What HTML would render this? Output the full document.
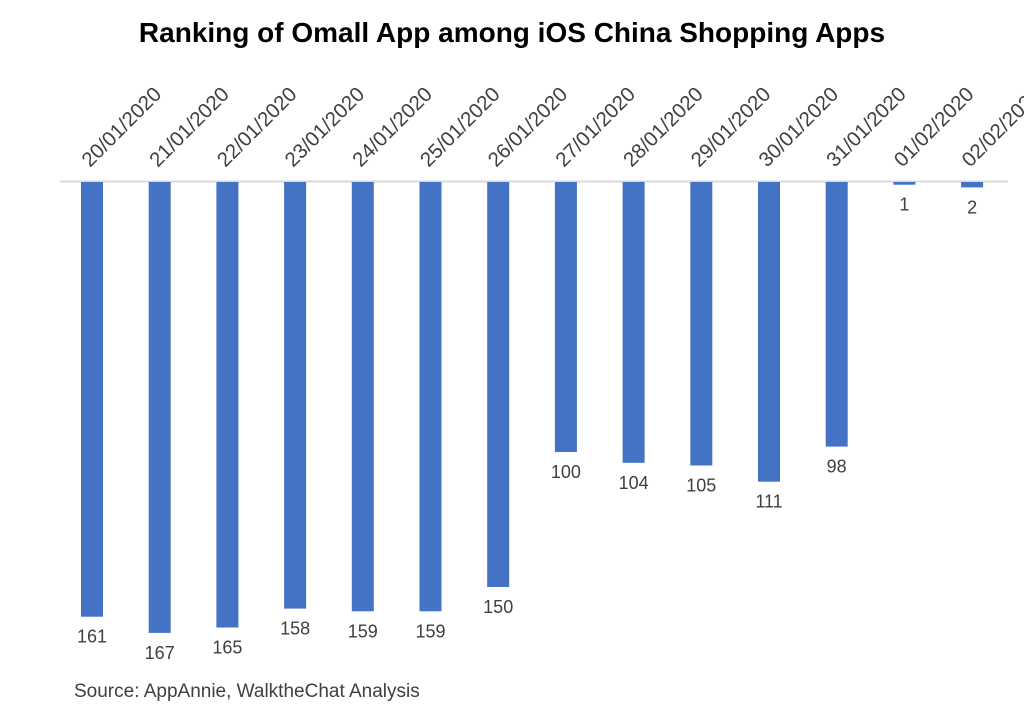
<!DOCTYPE html>
<html><head><meta charset="utf-8"><style>
body{margin:0;background:#fff;}
svg{display:block;font-family:"Liberation Sans",sans-serif;}
</style></head><body>
<svg id="chart" width="1024" height="717" viewBox="0 0 1024 717">
<text x="512" y="42" text-anchor="middle" font-size="28" font-weight="bold" fill="#000">Ranking of Omall App among iOS China Shopping Apps</text>
<line x1="60" y1="181.5" x2="1008" y2="181.5" stroke="#d9d9d9" stroke-width="2"/>
<g id="bars"></g>
<text x="74" y="697" font-size="19" fill="#404040">Source: AppAnnie, WalktheChat Analysis</text>
</svg>
<script>
const categories = ["20/01/2020","21/01/2020","22/01/2020","23/01/2020","24/01/2020","25/01/2020","26/01/2020","27/01/2020","28/01/2020","29/01/2020","30/01/2020","31/01/2020","01/02/2020","02/02/2020"];
const ranks = [161,167,165,158,159,159,150,100,104,105,111,98,1,2];
const ns = "http://www.w3.org/2000/svg";
const g = document.getElementById("bars");
const baseY = 182, pxPerUnit = 2.70;
const xFor = i => 92 + i * 67.7;
const yFor = v => baseY + v * pxPerUnit;
categories.forEach((c, i) => {
  const cx = xFor(i);
  const r = document.createElementNS(ns, "rect");
  r.setAttribute("x", cx - 11);
  r.setAttribute("y", baseY);
  r.setAttribute("width", 22);
  r.setAttribute("height", Math.max(yFor(ranks[i]) - baseY, 2));
  r.setAttribute("fill", "#4472c4");
  
  
  g.appendChild(r);
  const v = document.createElementNS(ns, "text");
  v.setAttribute("x", cx);
  v.setAttribute("y", yFor(ranks[i]) + 26);
  v.setAttribute("text-anchor", "middle");
  v.setAttribute("font-size", "18");
  v.setAttribute("fill", "#404040");
  v.textContent = ranks[i];
  
  
  g.appendChild(v);
  const t = document.createElementNS(ns, "text");
  t.setAttribute("x", cx - 2);
  t.setAttribute("y", 168);
  t.setAttribute("font-size", "20.5");
  t.setAttribute("fill", "#404040");
  t.setAttribute("transform", "rotate(-45 " + (cx - 2) + " 168)");
  t.textContent = c;
  
  
  g.appendChild(t);
});
</script>
</body></html>
